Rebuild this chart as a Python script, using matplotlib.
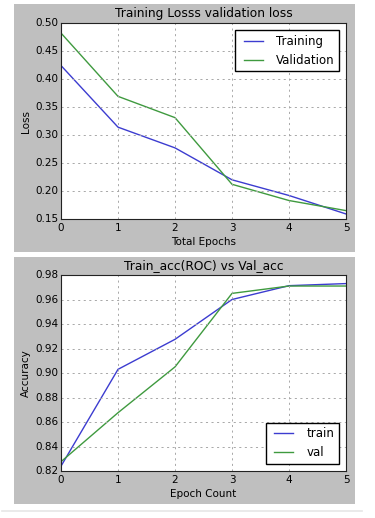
import matplotlib
matplotlib.use("Agg")
import matplotlib.pyplot as plt
from matplotlib.patches import Rectangle

plt.style.use("classic")

epochs = [0, 1, 2, 3, 4, 5]
train_loss = [0.424, 0.314, 0.277, 0.220, 0.192, 0.159]
val_loss = [0.482, 0.369, 0.331, 0.212, 0.183, 0.165]
train_acc = [0.824, 0.903, 0.9275, 0.960, 0.9713, 0.973]
val_acc = [0.8276, 0.8676, 0.905, 0.965, 0.971, 0.971]

blue = "#3c3cd0"
green = "#3f9a3f"
panel_gray = "#bfbfbf"

fig = plt.figure(figsize=(3.75, 5.18), dpi=100, facecolor="white")

# grey panels behind each subplot
fig.add_artist(Rectangle((0.0373, 0.5135), 0.909, 0.4788, transform=fig.transFigure,
                         facecolor=panel_gray, edgecolor="none", zorder=-10))
fig.add_artist(Rectangle((0.0373, 0.027), 0.909, 0.4768, transform=fig.transFigure,
                         facecolor=panel_gray, edgecolor="none", zorder=-10))
# faint rule at the bottom
fig.add_artist(plt.Line2D([0.005, 0.965], [0.0135, 0.0135], transform=fig.transFigure,
                          color="#e6e6e6", linewidth=1.2))

ax1 = fig.add_axes([0.1627, 0.5772, 0.76, 0.3784])
ax2 = fig.add_axes([0.1627, 0.0907, 0.76, 0.3784])

ax1.plot(epochs, train_loss, color=blue, linewidth=1.0, label="Training")
ax1.plot(epochs, val_loss, color=green, linewidth=1.0, label="Validation")
ax1.set_xlim(0, 5)
ax1.set_ylim(0.15, 0.50)
ax1.set_yticks([0.15, 0.20, 0.25, 0.30, 0.35, 0.40, 0.45, 0.50])
ax1.set_title("Training Losss validation loss", fontsize=8.8, pad=4)
ax1.set_xlabel("Total Epochs", fontsize=7.5, labelpad=3)
ax1.set_ylabel("Loss", fontsize=7.5, labelpad=3)
ax1.legend(loc="upper right", fontsize=8.5, borderaxespad=0.6, handlelength=2.2)

ax2.plot(epochs, train_acc, color=blue, linewidth=1.0, label="train")
ax2.plot(epochs, val_acc, color=green, linewidth=1.0, label="val")
ax2.set_xlim(0, 5)
ax2.set_ylim(0.82, 0.98)
ax2.set_yticks([0.82, 0.84, 0.86, 0.88, 0.90, 0.92, 0.94, 0.96, 0.98])
ax2.set_title("Train_acc(ROC) vs Val_acc", fontsize=8.8, pad=4)
ax2.set_xlabel("Epoch Count", fontsize=7.5, labelpad=3)
ax2.set_ylabel("Accuracy", fontsize=7.5, labelpad=3)
ax2.legend(loc="lower right", fontsize=8.5, borderaxespad=0.6, handlelength=2.2)

for ax in (ax1, ax2):
    ax.set_xticks(epochs)
    ax.grid(True, color="#a8a8a8", linestyle=(0, (1.5, 2.5)), linewidth=0.7)
    ax.tick_params(axis="x", labelsize=7.5, pad=3, length=0)
    ax.tick_params(axis="y", labelsize=7.5, pad=2, length=0)
    ax.set_facecolor("white")
    for s in ax.spines.values():
        s.set_linewidth(0.8)
        s.set_color("#222222")
        s.set_zorder(3)

fig.savefig("out.png", dpi=100, facecolor="white")
